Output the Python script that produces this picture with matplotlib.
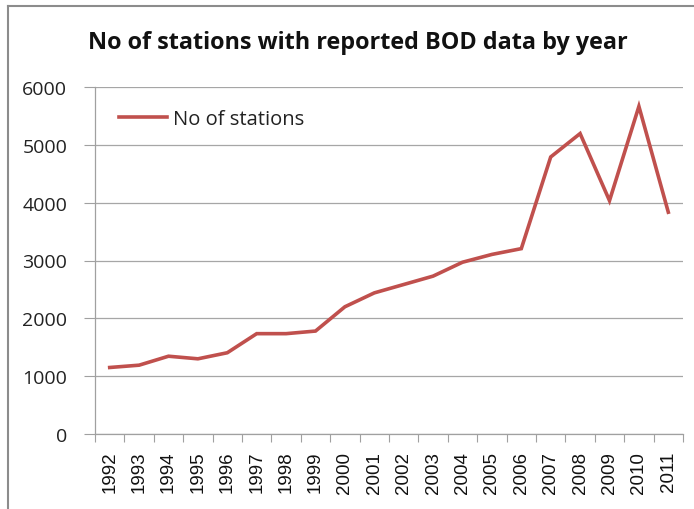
import matplotlib
matplotlib.use("Agg")
import matplotlib.pyplot as plt
from matplotlib.lines import Line2D

years = ["1992", "1993", "1994", "1995", "1996", "1997", "1998", "1999", "2000", "2001",
         "2002", "2003", "2004", "2005", "2006", "2007", "2008", "2009", "2010", "2011"]
stations = [1150, 1190, 1345, 1300, 1405, 1735, 1735, 1780, 2200, 2440,
            2585, 2730, 2970, 3105, 3205, 4790, 5195, 4035, 5665, 3835]
y_ticks = [0, 1000, 2000, 3000, 4000, 5000, 6000]

W, H = 694, 510
fig = plt.figure(figsize=(W / 100, H / 100), dpi=100)
ax = fig.add_axes([95 / W, 1 - 435 / H, (683 - 95) / W, (435 - 88) / H])

x = list(range(len(years)))
ax.plot(x, stations, color="#C0504D", lw=2.6, solid_joinstyle="miter", label="No of stations")

ax.set_xlim(-0.5, len(years) - 0.5)
ax.set_ylim(0, 6000)
ax.set_yticks(y_ticks)
ax.set_yticklabels([str(v) for v in y_ticks], fontname="Open Sans", fontsize=14, color="#222222")
ax.set_xticks(x)
ax.set_xticklabels(years, rotation=90, fontname="Liberation Sans", fontsize=13.5, color="#111111")
ax.set_xticks([i - 0.5 for i in range(len(years) + 1)], minor=True)
ax.tick_params(axis="x", which="major", length=0, pad=12)
ax.tick_params(axis="x", which="minor", length=6, color="#A0A0A0", width=0.8)
ax.tick_params(axis="y", length=8, color="#A0A0A0", width=0.8, pad=12)

ax.grid(axis="y", color="#A6A6A6", lw=0.9)
ax.set_axisbelow(True)
for s in ["top", "right"]:
    ax.spines[s].set_visible(False)
ax.spines["left"].set_color("#A0A0A0")
ax.spines["bottom"].set_color("#A0A0A0")
ax.spines["left"].set_linewidth(0.9)
ax.spines["bottom"].set_linewidth(0.9)

leg = ax.legend(loc="upper left", bbox_to_anchor=(16 / 588, 1 - 14 / 347), frameon=False,
                prop={"family": "Open Sans", "size": 14.5}, handlelength=2.4, handletextpad=0.3,
                borderaxespad=0)
for t in leg.get_texts():
    t.set_color("#222222")

fig.text(358 / W, 1 - 43 / H, "No of stations with reported BOD data by year",
         ha="center", va="center", fontname="Open Sans", fontweight="bold", fontsize=16.8,
         color="#111111")

# slide frame lines
fig.add_artist(Line2D([8 / W, 8 / W], [0, 1 - 7 / H], color="#8C8C8C", lw=1.5))
fig.add_artist(Line2D([8 / W, 1], [1 - 7 / H, 1 - 7 / H], color="#8C8C8C", lw=1.5))

fig.savefig("out.png", dpi=100)
